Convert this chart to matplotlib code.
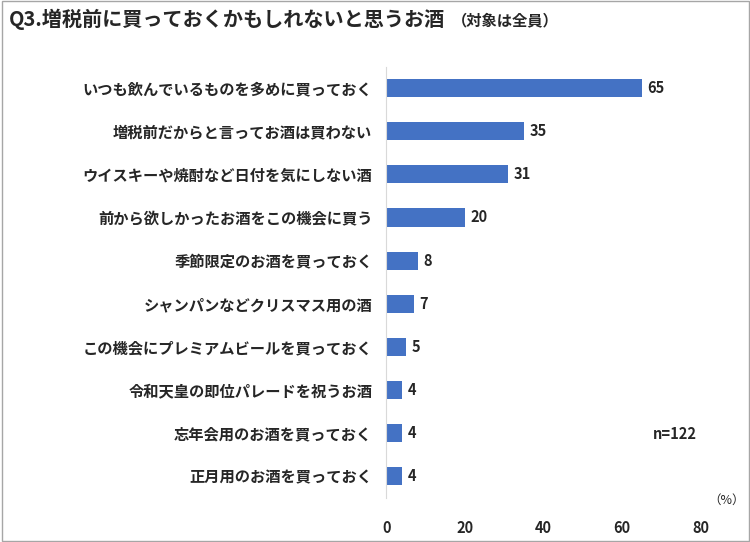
import matplotlib
matplotlib.use("Agg")
import matplotlib.pyplot as plt
from matplotlib.patches import Rectangle

plt.rcParams["font.family"] = "Noto Sans CJK JP"

categories = [
    "いつも飲んでいるものを多めに買っておく",
    "増税前だからと言ってお酒は買わない",
    "ウイスキーや焼酎など日付を気にしない酒",
    "前から欲しかったお酒をこの機会に買う",
    "季節限定のお酒を買っておく",
    "シャンパンなどクリスマス用の酒",
    "この機会にプレミアムビールを買っておく",
    "令和天皇の即位パレードを祝うお酒",
    "忘年会用のお酒を買っておく",
    "正月用のお酒を買っておく",
]
values = [65, 35, 31, 20, 8, 7, 5, 4, 4, 4]
xticks = [0, 20, 40, 60, 80]

fig = plt.figure(figsize=(7.5, 5.42), dpi=100)
fig.patches.append(Rectangle((0.002, 0.002), 0.996, 0.996, transform=fig.transFigure,
                             fill=False, edgecolor="#a6a6a6", linewidth=1))
ax = fig.add_axes([0.515, 0.082, 0.419, 0.795])

y = list(range(len(categories)))
bars = ax.barh(y, values, height=0.42, color="#4472C4")
for bar, v in zip(bars, values):
    ax.text(v + 1.5, bar.get_y() + bar.get_height() / 2, str(v),
            va="center", ha="left", fontsize=10.5, fontweight="bold", color="#262626")

ax.set_yticks(y)
ax.set_yticklabels(categories, fontsize=11, fontweight="bold", color="#262626")
ax.set_ylim(len(categories) - 0.5, -0.5)
ax.set_xlim(0, 80)
ax.set_xticks(xticks)
ax.set_xticklabels([str(t) for t in xticks], fontsize=10.5, fontweight="bold", color="#262626")
ax.tick_params(length=0, pad=10)
ax.tick_params(axis="x", pad=16)
for s in ["top", "right", "bottom"]:
    ax.spines[s].set_visible(False)
ax.spines["left"].set_color("#d9d9d9")

fig.text(0.012, 0.965, "Q3.増税前に買っておくかもしれないと思うお酒", fontsize=14.5,
         fontweight="bold", color="#262626", va="center")
fig.text(0.603, 0.962, "（対象は全員）", fontsize=11, fontweight="bold",
         color="#262626", va="center")
fig.text(0.87, 0.19, "n=122", fontsize=10.5, fontweight="bold", color="#262626")
fig.text(0.945, 0.07, "（%）", fontsize=9, color="#262626")

fig.savefig("out.png", dpi=100)
